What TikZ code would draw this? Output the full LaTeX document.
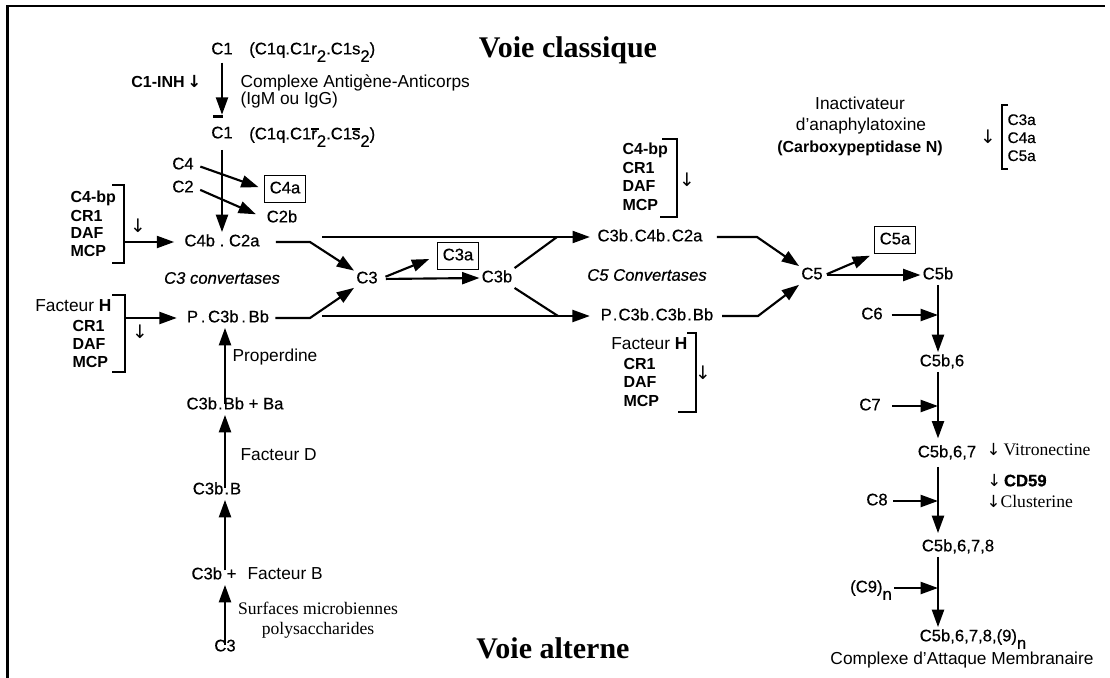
\documentclass[tikz,border=0pt]{standalone}
\usepackage{fontspec}
\setmainfont{Liberation Sans}
\newfontfamily\serifface{Liberation Serif}
\newfontfamily\scanf{Liberation Sans}[FakeBold=0.5]
\newfontfamily\arrface{DejaVu Sans}
\usetikzlibrary{arrows.meta}
\newcommand{\mdot}{\kern0.06em.\kern0.06em}
\newcommand{\pdot}{\kern0.16em.\kern0.16em}
\newcommand{\wdot}{\kern0.28em.\kern0.28em}
\newcommand{\lsub}[1]{\raisebox{-0.45em}{#1}}
\newcommand{\topbar}[3]{\rlap{\smash{\kern#1\raisebox{#2}{\rule{#3}{0.13em}}}}}
\newcommand{\dnarr}{{\arrface\fontsize{12.5}{12.5}\selectfont ↓}}
\begin{document}
\begin{tikzpicture}[x=0.75pt,y=-0.75pt,
  lbl/.style={font=\scanf\fontsize{12.5}{15}\selectfont, inner sep=1.5pt, text height=9pt, text depth=2.5pt},
  bx/.style={lbl, draw, line width=1.1pt, inner xsep=4pt, inner ysep=4.3pt},
  bld/.style={font=\bfseries\fontsize{12}{14}\selectfont, inner sep=1pt, text height=8.6pt, text depth=2.4pt},
  note/.style={font=\fontsize{13}{15}\selectfont, inner sep=1pt, text height=9.3pt, text depth=2.7pt},
  srf/.style={font=\serifface\fontsize{13.2}{15}\selectfont, inner sep=1pt, text height=9pt, text depth=3pt},
  ttl/.style={font=\serifface\bfseries\fontsize{22.5}{26}\selectfont, inner sep=1pt},
  cv/.style={font=\scanf\itshape\fontsize{12.5}{15}\selectfont, inner sep=1pt},
  sm/.style={font=\scanf\fontsize{11.5}{14}\selectfont, inner sep=1pt, text height=8.3pt, text depth=2.3pt},
  dn/.style={font=\arrface\fontsize{14}{14}\selectfont, inner sep=0pt},
  arr/.style={line width=1.6pt, -{Triangle[length=13pt,width=9pt]}},
  ln/.style={line width=1.6pt},
  brk/.style={line width=1.4pt}
]
\useasboundingbox (0,0) rectangle (1110,678);
% frame
\draw[line width=2.3pt] (7.5,678) -- (7.5,5);
\draw[line width=1.8pt] (6.5,6) -- (1105,6);

% titles
\node[ttl] (vc) at (568,50) {Voie classique};
\node[ttl] (va) at (553,648) {Voie alterne};

% classical pathway top
\node[lbl] (c1) at (222,50) {C1};
\node[lbl,anchor=west] (c1q) at (247,50) {(C1q.C1r\lsub{2}.C1s\lsub{2})};
\node[bld,anchor=east] (inh) at (203,83) {C1-INH\,\dnarr};
\node[note,anchor=west] (ag) at (239,83) {Complexe Antigène-Anticorps};
\node[note,anchor=west] (ig) at (239,100) {(IgM ou IgG)};
\node[lbl] (c1b) at (222,134) {C\topbar{-0.6em}{1.25em}{0.55em}1};
\node[lbl,anchor=west] (c1qb) at (247,135) {(C1q.C1\topbar{0em}{0.58em}{0.48em}r\lsub{2}.C1\topbar{0em}{0.58em}{0.48em}s\lsub{2})};
\node[lbl] (c4) at (183,165) {C4};
\node[lbl] (c2) at (183,188) {C2};
\node[bx] (c4a) at (285,189) {C4a};
\node[lbl] (c2b) at (282,218) {C2b};
\node[lbl] (c4bc2a) at (222,242) {C4b\wdot C2a};
\node[cv] (cv3) at (222,278) {C3 convertases};
\node[lbl] (pc3bbb) at (228,318) {P\pdot C3b\pdot Bb};

% bracket 1
\node[bld,anchor=west] (b1a) at (69,198) {C4-bp};
\node[bld,anchor=west] (b1b) at (69,217) {CR1};
\node[bld,anchor=west] (b1c) at (69,234) {DAF};
\node[bld,anchor=west] (b1d) at (69,252) {MCP};
\draw[brk] (112,185) -- (124,185) -- (124,263) -- (112,263);
\node[dn] (d1) at (138,226) {↓};
\coordinate (b1) at (124,242);

% bracket 2
\node[note,anchor=east] (b2h) at (113,307) {Facteur \textbf{H}};
\node[bld,anchor=west] (b2b) at (71,327) {CR1};
\node[bld,anchor=west] (b2c) at (71,345) {DAF};
\node[bld,anchor=west] (b2d) at (71,363) {MCP};
\draw[brk] (112,295) -- (125,295) -- (125,372) -- (112,372);
\node[dn] (d2) at (140,332) {↓};
\coordinate (b2) at (125,318);

% alternative pathway column
\node[note,anchor=west] (prop) at (231,357) {Properdine};
\node[lbl] (c3bbbba) at (235,405) {C3b\mdot Bb + Ba};
\node[note,anchor=west] (fd) at (239,456) {Facteur D};
\node[lbl] (c3bB) at (217,490) {C3b\mdot B};
\node[lbl] (c3bp) at (214,575) {C3b +};
\node[note,anchor=west] (fb) at (246,575) {Facteur B};
\node[srf] (surf1) at (318,610) {Surfaces microbiennes};
\node[srf] (surf2) at (318,630) {polysaccharides};
\node[lbl] (c3bot) at (225,647) {C3};

% middle
\node[lbl] (c3) at (367,279) {C3};
\node[bx] (c3a) at (458,256) {C3a};
\node[lbl] (c3b) at (497,278) {C3b};
\node[lbl] (c3bc4bc2a) at (650,237) {C3b\mdot C4b\mdot C2a};
\node[cv] (cv5) at (647,275) {C5 Convertases};
\node[lbl] (pc3bc3bbb) at (657,316) {P\mdot C3b\mdot C3b\mdot Bb};

% bracket 3
\node[bld,anchor=west] (b3a) at (621,150) {C4-bp};
\node[bld,anchor=west] (b3b) at (621,169) {CR1};
\node[bld,anchor=west] (b3c) at (621,187) {DAF};
\node[bld,anchor=west] (b3d) at (621,206) {MCP};
\draw[brk] (662,139) -- (677,139) -- (677,217) -- (660,217);
\node[dn] (d3) at (687,180) {↓};

% bracket 4
\node[note,anchor=east] (b4h) at (689,345) {Facteur \textbf{H}};
\node[bld,anchor=west] (b4b) at (622,365) {CR1};
\node[bld,anchor=west] (b4c) at (622,383) {DAF};
\node[bld,anchor=west] (b4d) at (622,402) {MCP};
\draw[brk] (687,333) -- (696,333) -- (696,412) -- (678,412);
\node[dn] (d4) at (703,373) {↓};

% anaphylatoxin inactivator
\node[note] (in1) at (860,105) {Inactivateur};
\node[note] (in2) at (861,126) {d’anaphylatoxine};
\node[bld] (in3) at (860,148) {(Carboxypeptidase N)};
\node[dn] (d5) at (988,137) {↓};
\draw[brk] (1008,105) -- (1002,105) -- (1002,169) -- (1008,169);
\node[sm,anchor=west] (l3a) at (1006,121) {C3a};
\node[sm,anchor=west] (l4a) at (1006,139) {C4a};
\node[sm,anchor=west] (l5a) at (1006,157) {C5a};

% terminal pathway
\node[lbl] (c5) at (812,275) {C5};
\node[bx] (c5a) at (895,240) {C5a};
\node[lbl] (c5b) at (938,275) {C5b};
\node[lbl] (c6) at (872,315) {C6};
\node[lbl] (c5b6) at (942,362) {C5b,6};
\node[lbl] (c7) at (870,406) {C7};
\node[lbl] (c5b67) at (947,453) {C5b,6,7};
\node[lbl] (c8) at (877,501) {C8};
\node[lbl] (c5b678) at (958,547) {C5b,6,7,8};
\node[lbl] (c9) at (871,588) {(C9)\lsub{n}};
\node[lbl] (fin) at (973,637) {C5b,6,7,8,(9)\lsub{n}};
\node[note] (cam) at (962,660) {Complexe d’Attaque Membranaire};
\node[srf,anchor=west] (vit) at (985,451) {\dnarr\,Vitronectine};
\node[lbl,anchor=west] (cd59) at (985,482) {\dnarr\,\textbf{CD59}};
\node[srf,anchor=west] (clu) at (985,503) {\dnarr Clusterine};

% connectors: classical top
\draw[arr, shorten <=2pt, shorten >=7pt] (c1.south) -- (c1b.north);
\draw[arr, shorten <=4.5pt] (c1b.south) -- (c4bc2a.north);
\draw[arr, shorten <=3.5pt, shorten >=4pt] (c4.east) -- (c4a.west);
\draw[arr, shorten <=3.5pt, shorten >=7pt] (c2.east) -- (c2b.west);
\draw[arr, shorten >=6pt] (b1) -- (c4bc2a.west);
\draw[arr, shorten >=6pt] (b2) -- (pc3bbb.west);

% to C3
\coordinate (k1) at (310,242);
\coordinate (k2) at (310,318);
\draw[arr, shorten <=10.5pt] (c4bc2a.east) -- (k1) -- (c3);
\draw[arr, shorten <=3pt] (pc3bbb.east) -- (k2) -- (c3);
\draw[arr, shorten <=4.5pt] (c3.east) -- (c3b.west);
\draw[arr, shorten <=4.5pt, shorten >=6pt] (c3.east) -- (c3a.west);

% long lines to C5 convertases
\coordinate (t1) at (322,237);
\coordinate (t2) at (322,316);
\coordinate (j1) at (557,237);
\coordinate (j2) at (558,316);
\draw[arr, shorten >=4pt] (t1) -- (c3bc4bc2a.west);
\draw[arr, shorten >=6.5pt] (t2) -- (pc3bc3bbb.west);
\draw[ln] (c3b.north east) -- (j1);
\draw[ln] (c3b.south east) -- (j2);

% to C5
\coordinate (k3) at (757,237);
\coordinate (k4) at (758,316);
\draw[arr, shorten <=9pt] (c3bc4bc2a.east) -- (k3) -- (c5);
\draw[arr, shorten <=5pt] (pc3bc3bbb.east) -- (k4) -- (c5);
\draw[arr, shorten <=1.5pt, shorten >=3pt] (c5.east) -- (c5a.south west);
\draw[arr, shorten <=1.5pt] (c5.east) -- (c5b.west);

% terminal column
\coordinate (m6) at (c5b.south |- c6);
\coordinate (m7) at (c5b.south |- c7);
\coordinate (m8) at (c5b.south |- c8);
\coordinate (m9) at (c5b.south |- c9);
\draw[arr] (c5b.south) -- (c5b.south |- c5b6.north);
\draw[arr, shorten <=5pt] (c6.east) -- (m6);
\draw[arr, shorten >=3.5pt] (c5b.south |- c5b6.south) -- (c5b.south |- c5b67.north);
\draw[arr, shorten <=7pt] (c7.east) -- (m7);
\draw[arr, shorten <=3pt, shorten >=3pt] (c5b.south |- c5b67.south) -- (c5b.south |- c5b678.north);
\draw[arr, shorten <=2.5pt] (c8.east) -- (m8);
\draw[arr] (c5b.south |- c5b678.south) -- (c5b.south |- fin.north);
\draw[arr] (c9.east) -- (m9);

% alternative column
\draw[arr, shorten <=-6pt] (c3bot.north) -- (c3bot.north |- c3bp.south);
\draw[arr, shorten <=-4pt] (c3bot.north |- c3bp.north) -- (c3bot.north |- c3bB.south);
\draw[arr, shorten <=-6pt] (c3bot.north |- c3bB.north) -- (c3bot.north |- c3bbbba.south);
\draw[arr, shorten <=-7pt] (c3bot.north |- c3bbbba.north) -- (c3bot.north |- pc3bbb.south);
\end{tikzpicture}
\end{document}
